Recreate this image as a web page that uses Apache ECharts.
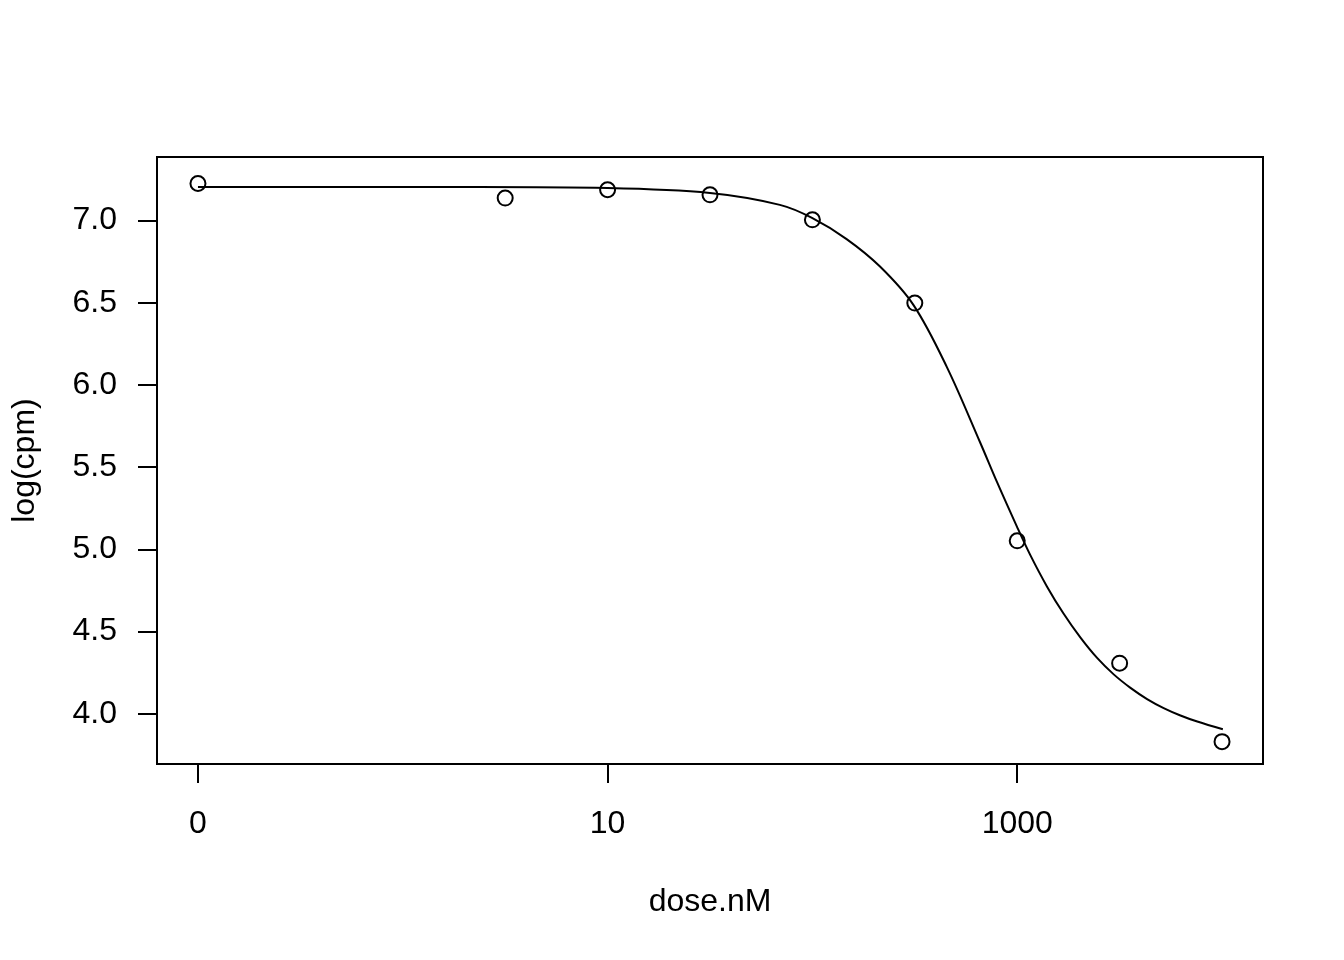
<!DOCTYPE html>
<html>
<head>
<meta charset="utf-8">
<title>dose response</title>
<script src="https://cdn.jsdelivr.net/npm/echarts@6/dist/echarts.min.js"></script>
<style>
  html, body { margin: 0; padding: 0; background: #fff; }
  #chart { width: 1344px; height: 960px; }
</style>
</head>
<body>
<div id="chart"></div>
<script>
// observed points (x is log10 of dose)
var doseLog = [-1, 0.5, 1, 1.5, 2, 2.5, 3, 3.5, 4];
var logCpm = [7.225, 7.136, 7.187, 7.156, 7.004, 6.498, 5.052, 4.308, 3.831];

// fitted curve
var curveX = [-1, 0.37, 1.0, 1.5, 1.841, 1.998, 2.167, 2.33, 2.493, 2.656, 2.819,
              2.901, 2.998, 3.064, 3.145, 3.226, 3.308, 3.39, 3.471, 3.553, 3.634, 3.715, 3.797, 3.879, 4.004];
var curveY = [7.203, 7.203, 7.197, 7.167, 7.095, 7.016, 6.887, 6.72, 6.487, 6.11, 5.65,
              5.41, 5.14, 4.965, 4.775, 4.61, 4.465, 4.34, 4.24, 4.158, 4.09, 4.035, 3.99, 3.953, 3.906];

var xTickPos = [-1, 1, 3];
var xTickLabels = ['0', '10', '1000'];
var yTicks = [4.0, 4.5, 5.0, 5.5, 6.0, 6.5, 7.0];

var fontFam = '"Liberation Sans", Arial, Helvetica, sans-serif';

var myChart = echarts.init(document.getElementById('chart'));

var option = {
    animation: false,
    backgroundColor: '#fff',
    grid: {
        left: 157, right: 81, top: 157, bottom: 196,
        show: true,
        borderColor: '#000',
        borderWidth: 2,
        backgroundColor: 'transparent'
    },
    xAxis: {
        type: 'value',
        min: -1.2,
        max: 4.2,
        name: 'dose.nM',
        nameLocation: 'middle',
        nameGap: 122,
        nameTextStyle: {color: '#000', fontSize: 32, fontFamily: fontFam},
        axisLine: {show: false, onZero: false},
        splitLine: {show: false},
        axisTick: {
            show: true,
            length: 19,
            customValues: xTickPos,
            lineStyle: {color: '#000', width: 2}
        },
        axisLabel: {
            customValues: xTickPos,
            margin: 44,
            color: '#000',
            fontSize: 32,
            fontFamily: fontFam,
            formatter: function (v) {
                var i = xTickPos.indexOf(v);
                return i >= 0 ? xTickLabels[i] : '';
            }
        }
    },
    yAxis: {
        type: 'value',
        min: 3.695,
        max: 7.386,
        name: 'log(cpm)',
        nameLocation: 'middle',
        nameGap: 116,
        nameTextStyle: {color: '#000', fontSize: 32, fontFamily: fontFam},
        axisLine: {show: false, onZero: false},
        splitLine: {show: false},
        axisTick: {
            show: true,
            length: 19,
            customValues: yTicks,
            lineStyle: {color: '#000', width: 2}
        },
        axisLabel: {
            customValues: yTicks,
            margin: 40,
            padding: [6, 0, 0, 0],
            color: '#000',
            fontSize: 32,
            fontFamily: fontFam,
            formatter: function (v) { return v.toFixed(1); }
        }
    },
    series: [
        {
            type: 'scatter',
            data: doseLog.map(function (x, i) { return [x, logCpm[i]]; }),
            symbol: 'circle',
            symbolSize: 15,
            itemStyle: {color: 'rgba(0,0,0,0)', borderColor: '#000', borderWidth: 2, opacity: 1},
            z: 2
        },
        {
            type: 'line',
            data: curveX.map(function (x, i) { return [x, curveY[i]]; }),
            showSymbol: false,
            smooth: 0.35,
            lineStyle: {color: '#000', width: 2},
            z: 3
        }
    ]
};

myChart.setOption(option);
</script>
</body>
</html>
